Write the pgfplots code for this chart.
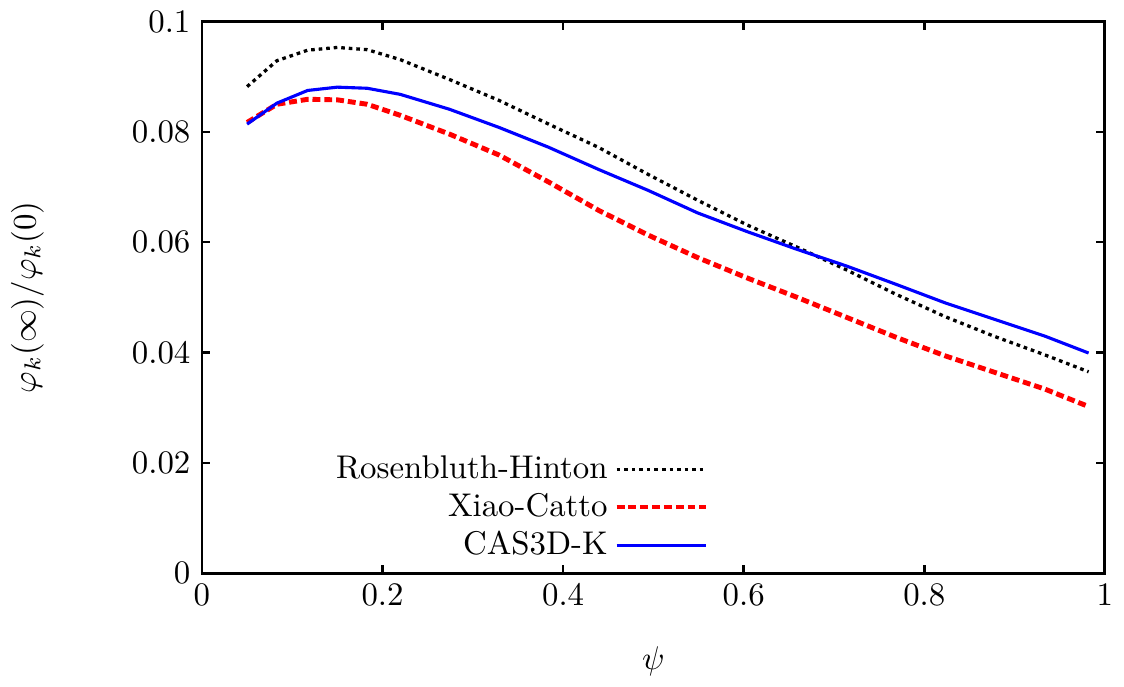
\documentclass[border=0pt]{standalone}
\usepackage{pgfplots}
\pgfplotsset{compat=1.18}

\begin{document}
\begin{tikzpicture}
\begin{axis}[
    scale only axis,
    width=275pt, height=168pt,
    xmin=0, xmax=1, ymin=0, ymax=0.1,
    xtick={0,0.2,...,1}, ytick={0,0.02,...,0.1},
    scaled y ticks=false,
    yticklabel style={/pgf/number format/fixed, /pgf/number format/precision=2},
    xticklabel style={/pgf/number format/fixed},
    tick align=inside, major tick length=2.6pt,
    axis line style={line width=0.85pt},
    every tick/.style={line width=0.75pt, black},
    xlabel={$\psi$}, ylabel={$\varphi_k(\infty)/\varphi_k(0)$},
    xlabel style={yshift=-5.5pt},
    ylabel style={yshift=20pt},
    legend plot pos=right,
    legend cell align=right,
    legend style={draw=none, fill=none, at={(0.573,0.0)}, anchor=south east,
        row sep=-1pt},
    legend image code/.code={\draw[#1] (0.2cm,0cm) -- (1.16cm,0cm);},
]
\addplot[black, line width=1pt, dash pattern=on 1.1pt off 1.2pt] coordinates {
(0.05,0.0882) (0.083,0.0929) (0.117,0.0948) (0.15,0.0953) (0.183,0.0949)
(0.2195,0.0931) (0.274,0.0895) (0.329,0.0857) (0.384,0.0814) (0.439,0.0772)
(0.494,0.0723) (0.549,0.0676) (0.604,0.0631) (0.659,0.0591) (0.7135,0.0550)
(0.768,0.0506) (0.823,0.0465) (0.878,0.0429) (0.933,0.0396) (0.982,0.0365)};
\addlegendentry{Rosenbluth-Hinton}
\addplot[red, line width=1.5pt, dash pattern=on 2.4pt off 1.2pt] coordinates {
(0.05,0.0817) (0.083,0.0850) (0.117,0.0859) (0.15,0.0858) (0.183,0.0850)
(0.2195,0.0830) (0.274,0.0796) (0.329,0.0758) (0.384,0.0709) (0.439,0.0658)
(0.494,0.0613) (0.549,0.0572) (0.604,0.0535) (0.659,0.0500) (0.7135,0.0464)
(0.768,0.0428) (0.823,0.0394) (0.878,0.0364) (0.933,0.0334) (0.982,0.0302)};
\addlegendentry{Xiao-Catto}
\addplot[blue, line width=0.95pt] coordinates {
(0.05,0.0814) (0.083,0.0852) (0.117,0.0875) (0.15,0.0881) (0.183,0.0879)
(0.2195,0.0868) (0.274,0.0841) (0.329,0.0808) (0.384,0.0772) (0.439,0.0732)
(0.494,0.0694) (0.549,0.0653) (0.604,0.0619) (0.659,0.0587) (0.7135,0.0557)
(0.768,0.0524) (0.823,0.0490) (0.878,0.0460) (0.933,0.0430) (0.982,0.0399)};
\addlegendentry{CAS3D-K}
\end{axis}
\end{tikzpicture}
\end{document}
